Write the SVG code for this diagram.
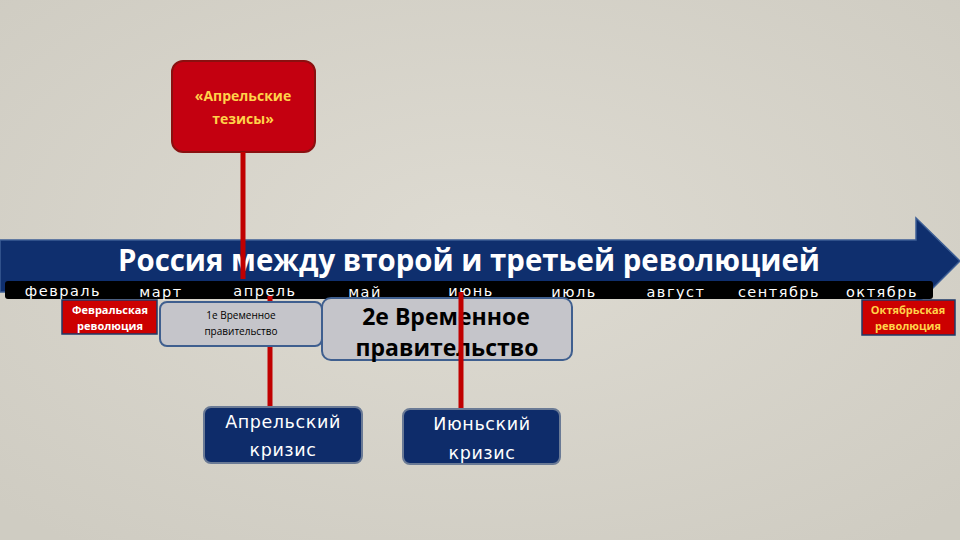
<svg xmlns="http://www.w3.org/2000/svg" width="960" height="540" viewBox="0 0 960 540">
<defs>
<radialGradient id="bg" cx="50%" cy="45%" r="70%">
<stop offset="0" stop-color="#dedbd2"/>
<stop offset="1" stop-color="#cfccc2"/>
</radialGradient>
<style>
.mon{font-family:"DejaVu Sans","Open Sans",sans-serif;font-size:14.5px;letter-spacing:1.5px;fill:#ffffff;text-anchor:middle}
.red{stroke:#c00000;stroke-width:5;fill:none}
.redbox{fill:#cc0000;stroke:#1f3a68;stroke-width:1.5}
.grey{fill:#c5c5ca;stroke:#3f5f8f;stroke-width:2}
.navy{fill:#0e2c6a;stroke:#6a7a95;stroke-width:2}
.wt{font-family:"Open Sans","DejaVu Sans",sans-serif;fill:#ffffff;text-anchor:middle}
.ct{font-family:"DejaVu Sans","Open Sans",sans-serif;fill:#ffffff;text-anchor:middle;font-size:17.5px;letter-spacing:0.6px}
.bt{font-family:"Open Sans","DejaVu Sans",sans-serif;fill:#000000;text-anchor:middle}
.yt{font-family:"Open Sans","DejaVu Sans",sans-serif;fill:#ffd24a;text-anchor:middle;font-weight:bold}
</style>
</defs>
<rect width="960" height="540" fill="url(#bg)"/>

<g id="timeline-arrow">
<path d="M0,240 L916,240 L916,218 L960,261 L916,305 L916,292 L0,292 Z" fill="#0f2f6e" stroke="#3c5e95" stroke-width="1.5"/>
<rect x="5" y="281" width="928" height="18" rx="3" fill="#000000"/>
<text x="469" y="271" font-family="'Open Sans','DejaVu Sans',sans-serif" font-weight="bold" font-size="30" fill="#ffffff" text-anchor="middle" textLength="702" lengthAdjust="spacingAndGlyphs">Россия между второй и третьей революцией</text>
<text class="mon" x="63" y="296">февраль</text>
<text class="mon" x="161" y="297">март</text>
<text class="mon" x="265" y="296">апрель</text>
<text class="mon" x="365" y="297">май</text>
<text class="mon" x="471" y="296">июнь</text>
<text class="mon" x="574" y="297">июль</text>
<text class="mon" x="676" y="297">август</text>
<text class="mon" x="779" y="297">сентябрь</text>
<text class="mon" x="882" y="297">октябрь</text>
</g>

<g id="connectors-back">
<line class="red" x1="270" y1="296" x2="270" y2="408"/>
</g>

<g id="feb-revolution">
<rect class="redbox" x="62" y="300" width="95" height="34"/>
<text class="wt" x="110" y="314" font-size="11" font-weight="bold">Февральская</text>
<text class="wt" x="110" y="330" font-size="11" font-weight="bold">революция</text>
</g>

<g id="gov1">
<rect class="grey" x="160" y="302" width="162" height="44" rx="7"/>
<text class="bt" x="241" y="319" font-size="10">1е Временное</text>
<text class="bt" x="241" y="335" font-size="10">правительство</text>
</g>

<g id="gov2">
<rect class="grey" x="322" y="298" width="250" height="62" rx="9"/>
<text class="bt" x="446" y="325" font-size="23" font-weight="bold">2е Временное</text>
<text class="bt" x="447" y="356" font-size="23" font-weight="bold">правительство</text>
</g>

<g id="april-theses">
<rect x="172" y="61" width="143" height="91" rx="11" fill="#c40010" stroke="#8a1010" stroke-width="2"/>
<text class="yt" x="243" y="101" font-size="14">«Апрельские</text>
<text class="yt" x="243" y="124" font-size="14">тезисы»</text>
</g>

<g id="connectors">
<line class="red" x1="243" y1="152" x2="243" y2="279"/>
<line class="red" x1="461" y1="292" x2="461" y2="410"/>
</g>

<g id="april-crisis">
<rect class="navy" x="204" y="407" width="158" height="56" rx="7"/>
<text class="ct" x="283" y="428">Апрельский</text>
<text class="ct" x="283" y="456">кризис</text>
</g>

<g id="june-crisis">
<rect class="navy" x="403" y="409" width="157" height="55" rx="7"/>
<text class="ct" x="482" y="430">Июньский</text>
<text class="ct" x="482" y="459">кризис</text>
</g>

<g id="oct-revolution">
<rect class="redbox" x="862" y="300" width="93" height="35"/>
<text class="yt" x="908" y="314" font-size="11">Октябрьская</text>
<text class="yt" x="908" y="330" font-size="11">революция</text>
</g>
</svg>
